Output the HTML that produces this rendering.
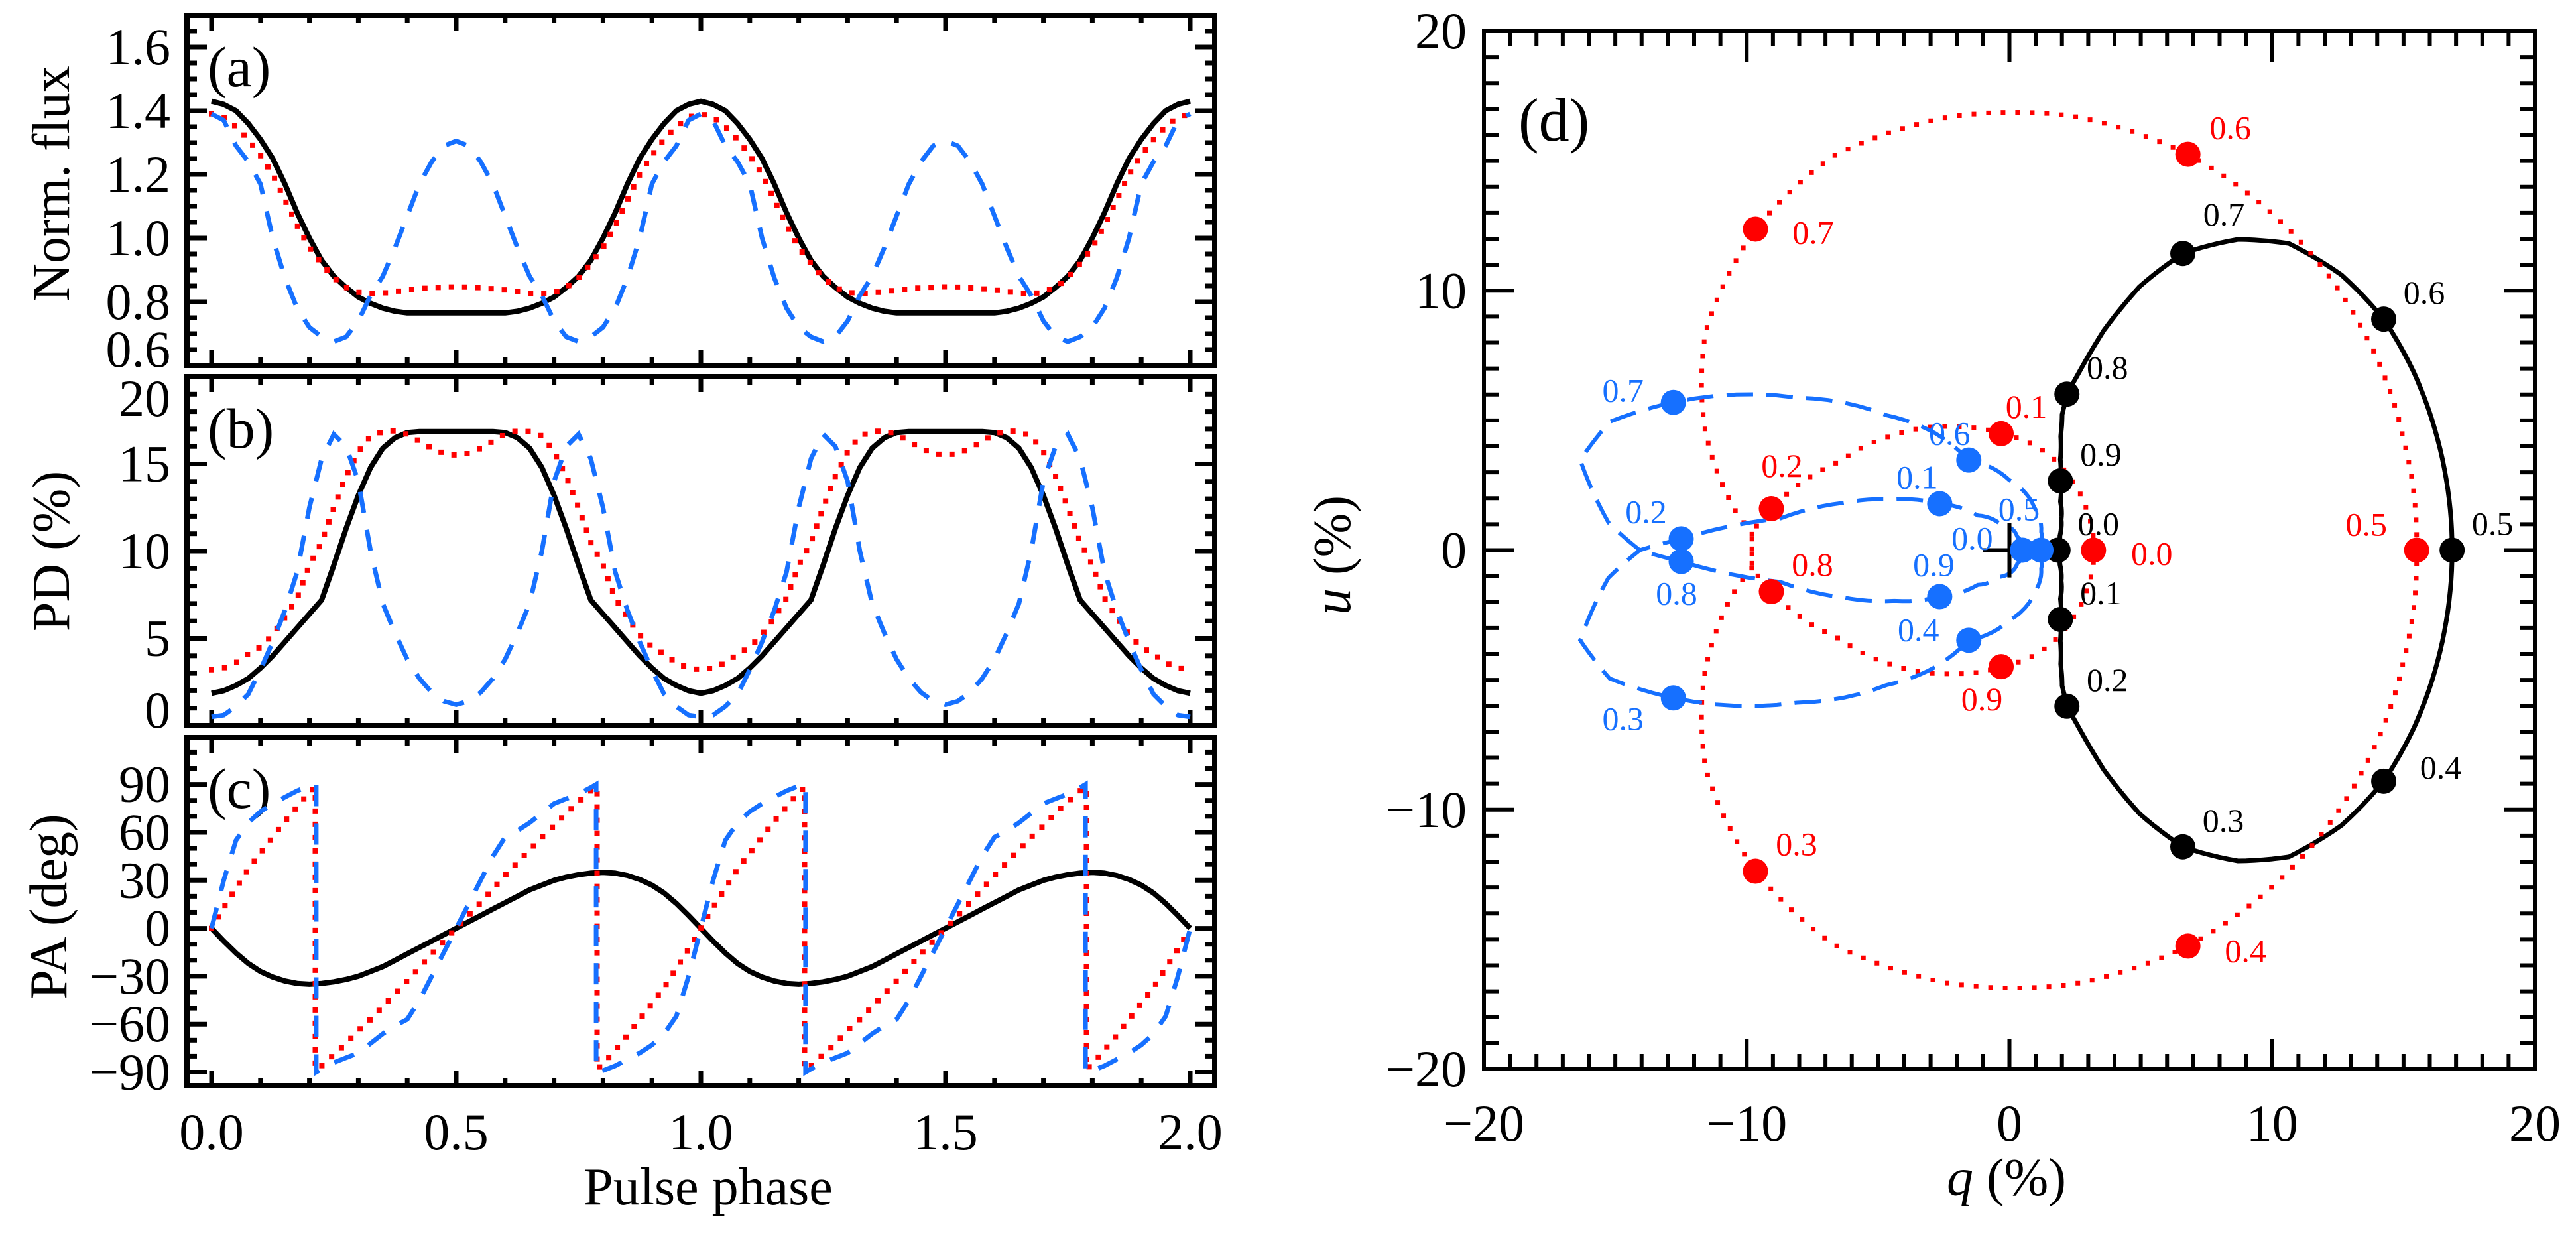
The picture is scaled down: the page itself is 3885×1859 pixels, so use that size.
<!DOCTYPE html>
<html><head><meta charset="utf-8"><title>Pulse profiles and polarization</title>
<style>html,body{margin:0;padding:0;background:#fff;}svg{display:block;}
text{font-family:"Liberation Serif","DejaVu Serif",serif;}</style></head>
<body>
<svg id="fig" xmlns="http://www.w3.org/2000/svg" width="3885" height="1859" viewBox="0 0 3885 1859">
<rect x="0" y="0" width="3885" height="1859" fill="#fff"/>
<defs>
<clipPath id="clipA"><rect x="282" y="23" width="1550" height="528"/></clipPath>
<clipPath id="clipB"><rect x="282" y="568" width="1550" height="526"/></clipPath>
<clipPath id="clipC"><rect x="282" y="1112" width="1550" height="525"/></clipPath>
<clipPath id="clipD"><rect x="2238" y="47" width="1585" height="1565"/></clipPath>
</defs>
<g id="layer"></g>
</svg>
<script>
// ---- data (one pulse period, phase 0..1, drawn twice) ----
const phase = [0,0.025,0.05,0.075,0.1,0.125,0.15,0.175,0.2,0.225,0.25,0.275,0.3,0.325,0.35,0.375,0.4,0.425,0.45,0.475,0.5,0.525,0.55,0.575,0.6,0.625,0.65,0.675,0.7,0.725,0.75,0.775,0.8,0.825,0.85,0.875,0.9,0.925,0.95,0.975,1];
const fluxBlack = [1.43,1.42,1.40,1.36,1.31,1.25,1.17,1.08,1.00,0.93,0.88,0.845,0.815,0.795,0.78,0.77,0.765,0.765,0.765,0.765,0.765,0.765,0.765,0.765,0.765,0.77,0.78,0.795,0.815,0.845,0.88,0.93,1.00,1.08,1.17,1.25,1.31,1.36,1.40,1.42,1.43];
const fluxRed = [1.39,1.38,1.35,1.31,1.26,1.20,1.12,1.04,0.97,0.92,0.875,0.845,0.83,0.825,0.827,0.832,0.837,0.841,0.844,0.846,0.847,0.846,0.844,0.841,0.837,0.832,0.827,0.825,0.83,0.845,0.875,0.92,0.97,1.04,1.12,1.20,1.26,1.31,1.35,1.38,1.39];
const fluxBlue = [1.39,1.37,1.29,1.24,1.17,1.00,0.875,0.78,0.72,0.69,0.675,0.69,0.74,0.82,0.88,0.97,1.07,1.17,1.24,1.29,1.305,1.29,1.24,1.17,1.07,0.97,0.88,0.82,0.74,0.69,0.675,0.69,0.72,0.78,0.875,1.00,1.17,1.24,1.29,1.37,1.39];
const pdBlack = [1.85,2.0,2.3,2.7,3.3,4.0,4.8,5.6,6.4,7.2,9.2,11.3,13.2,14.8,15.9,16.5,16.8,16.85,16.85,16.85,16.85,16.85,16.85,16.85,16.8,16.5,15.9,14.8,13.2,11.3,9.2,7.2,6.4,5.6,4.8,4.0,3.3,2.7,2.3,2.0,1.85];
const pdRed = [3.2,3.3,3.6,4.1,4.5,5.2,6.2,7.3,9.2,10.5,12.5,14.3,15.7,16.6,16.85,16.9,16.7,16.3,15.9,15.6,15.5,15.6,15.9,16.3,16.7,16.9,16.85,16.6,15.7,14.3,12.5,10.5,9.2,7.3,6.2,5.2,4.5,4.1,3.6,3.3,3.2];
const pdBlue = [0.5,0.6,1.1,1.8,3.2,4.8,6.6,8.8,12.5,15.3,16.7,16.0,14.0,10.0,7.0,5.3,3.8,2.7,1.9,1.4,1.2,1.4,1.9,2.7,3.8,5.3,7.0,10.0,14.0,16.0,16.7,15.3,12.5,8.8,6.6,4.8,3.2,1.8,1.1,0.6,0.5];
const paBlack = [0,-8,-15.5,-22,-27,-30.5,-33,-34.5,-35,-34.5,-33.5,-32,-30,-27,-24,-20,-16,-12,-8,-4,0,4,8,12,16,20,24,27,30,32,33.5,34.5,35,34.5,33,30.5,27,22,15.5,8,0];
const paRedPhase = [0,0.025,0.05,0.075,0.1,0.125,0.15,0.175,0.2,0.212,0.212,0.225,0.25,0.275,0.3,0.325,0.35,0.375,0.4,0.425,0.45,0.475,0.5,0.525,0.55,0.575,0.6,0.625,0.65,0.675,0.7,0.725,0.75,0.775,0.788,0.788,0.8,0.825,0.85,0.875,0.9,0.925,0.95,0.975,1];
const paRed = [0,13,25,37,47,57,67,76,85,88,-88,-86,-79,-72,-64,-57,-49,-41,-33,-24.5,-16,-8,0,8,16,24.5,33,41,49,57,64,72,79,86,88,-88,-85,-76,-67,-57,-47,-37,-25,-13,0];
const paBluePhase = [0,0.025,0.05,0.075,0.1,0.125,0.15,0.175,0.2,0.214,0.214,0.225,0.25,0.275,0.3,0.325,0.35,0.375,0.4,0.425,0.45,0.475,0.5,0.525,0.55,0.575,0.6,0.625,0.65,0.675,0.7,0.725,0.75,0.775,0.786,0.786,0.8,0.825,0.85,0.875,0.9,0.925,0.95,0.975,1];
const paBlue = [0,30,55,66,73,78,82,86,89,90,-90,-88,-84,-81,-78,-72,-66,-61,-57,-45,-30,-15,0,15,30,45,57,61,66,72,78,81,84,88,90,-90,-89,-86,-82,-78,-73,-66,-55,-30,0];
const markPhases = [0,0.1,0.2,0.3,0.4,0.5,0.6,0.7,0.8,0.9];
const markLabels = ["0.0","0.1","0.2","0.3","0.4","0.5","0.6","0.7","0.8","0.9"];
const xTickLabels = ["0.0","0.5","1.0","1.5","2.0"];
const fluxTickLabels = ["0.6","0.8","1.0","1.2","1.4","1.6"];
const pdTickLabels = ["0","5","10","15","20"];
const paTickLabels = ["−90","−60","−30","0","30","60","90"];
const qTickLabels = ["−20","−10","0","10","20"];

// ---- styles (not data) ----
const NS = "http://www.w3.org/2000/svg";
const layer = document.getElementById("layer");
const RED = "#ff0000", BLUE = "#1670ff", BLK = "#000";
const lblOff = {
  black: {"0.4":[86,-21],"0.7":[62,-59]}, blackDef:[61,-40],
  red: {"0.0":[88,5],"0.1":[38,-41],"0.2":[16,-65],"0.3":[62,-41],"0.4":[87,7],"0.5":[-76,-39],"0.6":[64,-40],"0.7":[87,5],"0.8":[62,-41],"0.9":[-29,49]},
  blue: {"0.0":[-76,-18],"0.1":[-34,-40],"0.2":[-53,-41],"0.3":[-76,31],"0.4":[-76,-16],"0.5":[-33,-62],"0.6":[-29,-40],"0.7":[-76,-18],"0.8":[-7,48],"0.9":[-9,-48]}
};

function mk(tag, attrs, name, parent) {
  const el = document.createElementNS(NS, tag);
  for (const k in attrs) el.setAttribute(k, attrs[k]);
  
  
  (parent || layer).appendChild(el);
  return el;
}
function txt(s, x, y, size, anchor, name, color, extra) {
  const t = mk("text", Object.assign({x:x, y:y, "font-size":size, "text-anchor":anchor, fill:color||BLK}, extra||{}), name);
  t.textContent = s;
  return t;
}

// ---- axes for left panels ----
const X = p => 319 + p * 738;
const LX0 = 282, LX1 = 1832;
const panels = {
  a: {top:23, bot:551, v0:0.6, v1:1.7},
  b: {top:568, bot:1094, v0:0, v1:20},
  c: {top:1112, bot:1637, v0:-98.5, v1:119.3}
};
function Y(pn, v) { const P = panels[pn]; return P.bot - (v - P.v0) / (P.v1 - P.v0) * (P.bot - P.top); }

function leftFrame(pn, name) {
  const P = panels[pn];
  mk("rect", {x:LX0, y:P.top, width:LX1-LX0, height:P.bot-P.top, fill:"none", stroke:BLK, "stroke-width":8}, name + "-frame");
  for (let i = 0; i <= 20; i++) {
    const p = i * 0.1, x = X(p), L = (i % 5 === 0) ? 23 : 12;
    mk("line", {x1:x, y1:P.bot, x2:x, y2:P.bot-L, stroke:BLK, "stroke-width":7}, name + "-x-tick");
    mk("line", {x1:x, y1:P.top, x2:x, y2:P.top+L, stroke:BLK, "stroke-width":7}, name + "-x-tick-top");
  }
}
function yTicks(pn, name, v0, v1, minor, majorEvery) {
  const P = panels[pn];
  const n = Math.round((v1 - v0) / minor);
  for (let i = 0; i <= n; i++) {
    const v = v0 + i * minor, y = Y(pn, v);
    if (y < P.top - 1 || y > P.bot + 1) continue;
    const L = (i % majorEvery === 0) ? 30 : 15;
    mk("line", {x1:LX0, y1:y, x2:LX0+L, y2:y, stroke:BLK, "stroke-width":7}, name + "-y-tick");
    mk("line", {x1:LX1, y1:y, x2:LX1-L, y2:y, stroke:BLK, "stroke-width":7}, name + "-y-tick-right");
  }
}
leftFrame("a", "panel-a"); leftFrame("b", "panel-b"); leftFrame("c", "panel-c");
yTicks("a", "panel-a", 0.6, 1.7, 0.05, 4);
yTicks("b", "panel-b", 0, 20, 1, 5);
yTicks("c", "panel-c", -90, 110, 10, 3);

// tick labels
fluxTickLabels.forEach((s, i) => {
  let y = Y("a", parseFloat(s)); if (i === 0) y = 527;
  txt(s, 257, y + 26, 78, "end", "flux-tick-label");
});
pdTickLabels.forEach((s, i) => {
  let y = Y("b", parseFloat(s)); if (i === 0) y = 1071; if (i === pdTickLabels.length-1) y = 601;
  txt(s, 257, y + 26, 78, "end", "pd-tick-label");
});
paTickLabels.forEach(s => {
  const v = parseFloat(s.replace("−", "-"));
  txt(s, 257, Y("c", v) + 26, 78, "end", "pa-tick-label");
});
xTickLabels.forEach(s => txt(s, X(parseFloat(s)), 1733, 78, "middle", "phase-tick-label"));
txt("Pulse phase", 1068, 1816, 80, "middle", "x-axis-title");
txt("Norm. flux", 0, 0, 80, "middle", "flux-axis-title", BLK, {transform:"translate(104,277) rotate(-90)"});
txt("PD (%)", 0, 0, 80, "middle", "pd-axis-title", BLK, {transform:"translate(104,831) rotate(-90)"});
txt("PA (deg)", 0, 0, 80, "middle", "pa-axis-title", BLK, {transform:"translate(100,1367) rotate(-90)"});
txt("(a)", 313, 130, 86, "start", "panel-a-label");
txt("(b)", 313, 675, 86, "start", "panel-b-label");
txt("(c)", 313, 1218, 86, "start", "panel-c-label");

// ---- series drawing ----
const styles = {
  black: {stroke:BLK, "stroke-width":8, fill:"none", "stroke-linejoin":"round"},
  red: {stroke:RED, "stroke-width":8, fill:"none", "stroke-dasharray":"0 20", "stroke-linecap":"square"},
  blue: {stroke:BLUE, "stroke-width":7, fill:"none", "stroke-dasharray":"32 26"}
};
function drawSeries(pn, ph, vals, style, name, clip) {
  let d = "";
  for (let rep = 0; rep < 2; rep++) {
    for (let i = 0; i < ph.length; i++) {
      if (rep === 1 && i === 0) continue;
      const x = X(ph[i] + rep), y = Y(pn, vals[i]);
      d += (d === "" ? "M" : "L") + x.toFixed(1) + "," + y.toFixed(1);
    }
  }
  mk("path", Object.assign({d:d, "clip-path":"url(#" + clip + ")"}, styles[style]), name);
}
drawSeries("a", phase, fluxBlack, "black", "flux-line-black", "clipA");
drawSeries("a", phase, fluxRed, "red", "flux-line-red", "clipA");
drawSeries("a", phase, fluxBlue, "blue", "flux-line-blue", "clipA");
drawSeries("b", phase, pdBlack, "black", "pd-line-black", "clipB");
drawSeries("b", phase, pdRed, "red", "pd-line-red", "clipB");
drawSeries("b", phase, pdBlue, "blue", "pd-line-blue", "clipB");
drawSeries("c", phase, paBlack, "black", "pa-line-black", "clipC");
drawSeries("c", paRedPhase, paRed, "red", "pa-line-red", "clipC");
drawSeries("c", paBluePhase, paBlue, "blue", "pa-line-blue", "clipC");

// ---- panel d: q-u plane ----
const QX = q => 2238 + (q + 20) * 39.625;
const UY = u => 829.5 - u * 39.125;
mk("rect", {x:2238, y:47, width:1585, height:1565, fill:"none", stroke:BLK, "stroke-width":6}, "panel-d-frame");
for (let v = -20; v <= 20; v++) {
  const L = (v % 10 === 0) ? 46 : 23;
  const x = QX(v), y = UY(v);
  mk("line", {x1:x, y1:1612, x2:x, y2:1612-L, stroke:BLK, "stroke-width":6}, "q-tick");
  mk("line", {x1:x, y1:47, x2:x, y2:47+L, stroke:BLK, "stroke-width":6}, "q-tick-top");
  mk("line", {x1:2238, y1:y, x2:2238+L, y2:y, stroke:BLK, "stroke-width":6}, "u-tick");
  mk("line", {x1:3823, y1:y, x2:3823-L, y2:y, stroke:BLK, "stroke-width":6}, "u-tick-right");
}
qTickLabels.forEach(s => {
  const v = parseFloat(s.replace("−", "-"));
  txt(s, QX(v), 1720, 78, "middle", "q-tick-label");
  txt(s, 2212, UY(v) + 26, 78, "end", "u-tick-label");
});
const qt = txt("", 3026, 1802, 80, "middle", "q-axis-title");
qt.innerHTML = '<tspan font-style="italic">q</tspan> (%)';
const ut = txt("", 0, 0, 80, "middle", "u-axis-title", BLK, {transform:"translate(2036,837) rotate(-90)"});
ut.innerHTML = '<tspan font-style="italic">u</tspan> (%)';
txt("(d)", 2290, 212, 92, "start", "panel-d-label");

function interp(ph, vals, p) {
  for (let i = 0; i < ph.length - 1; i++) {
    if (p >= ph[i] && p <= ph[i+1]) {
      const t = (ph[i+1] - ph[i]) === 0 ? 0 : (p - ph[i]) / (ph[i+1] - ph[i]);
      return vals[i] + t * (vals[i+1] - vals[i]);
    }
  }
  return vals[vals.length - 1];
}
function qu(pd, pa) { const a = 2 * pa * Math.PI / 180; return [pd * Math.cos(a), pd * Math.sin(a)]; }
function drawLoop(paPh, paV, pdV, style, name) {
  let d = "";
  for (let i = 0; i < paPh.length; i++) {
    const steps = (i < paPh.length - 1 && paPh[i+1] !== paPh[i]) ? 6 : 1;
    for (let s = 0; s < steps; s++) {
      if (i === paPh.length - 1 && s > 0) break;
      const t = s / steps;
      const p = i < paPh.length - 1 ? paPh[i] + t * (paPh[i+1] - paPh[i]) : paPh[i];
      const pa = i < paPh.length - 1 ? paV[i] + t * (paV[i+1] - paV[i]) : paV[i];
      const pd = interp(phase, pdV, p);
      const [q, u] = qu(pd, pa);
      d += (d === "" ? "M" : "L") + QX(q).toFixed(1) + "," + UY(u).toFixed(1);
    }
  }
  const st = Object.assign({}, styles[style]);
  if (style === "black") st["stroke-width"] = 7;
  if (style === "red") { st["stroke-width"] = 7; st["stroke-dasharray"] = "0 22"; }
  if (style === "blue") { st["stroke-width"] = 6; st["stroke-dasharray"] = "40 20"; }
  mk("path", Object.assign({d:d, "clip-path":"url(#clipD)"}, st), name);
}
drawLoop(phase, paBlack, pdBlack, "black", "qu-loop-black");
drawLoop(paRedPhase, paRed, pdRed, "red", "qu-loop-red");
drawLoop(paBluePhase, paBlue, pdBlue, "blue", "qu-loop-blue");

// origin cross
mk("line", {x1:QX(-1), y1:UY(0), x2:QX(1), y2:UY(0), stroke:BLK, "stroke-width":6}, "origin-cross-h");
mk("line", {x1:QX(0), y1:UY(-1.05), x2:QX(0), y2:UY(1.05), stroke:BLK, "stroke-width":6}, "origin-cross-v");

function drawMarks(paPh, paV, pdV, color, key) {
  markPhases.forEach((p, k) => {
    const pa = interp(paPh, paV, p), pd = interp(phase, pdV, p);
    const [q, u] = qu(pd, pa);
    const cx = QX(q), cy = UY(u);
    mk("circle", {cx:cx, cy:cy, r:19, fill:color}, "phase-marker-" + key);
    const lab = markLabels[k];
    const off = (lblOff[key] && lblOff[key][lab]) || lblOff.blackDef;
    txt(lab, cx + off[0], cy + off[1] + 17, 50, "middle", "phase-marker-label-" + key, color);
  });
}
drawMarks(phase, paBlack, pdBlack, BLK, "black");
drawMarks(paRedPhase, paRed, pdRed, RED, "red");
drawMarks(paBluePhase, paBlue, pdBlue, BLUE, "blue");
</script>
</body></html>
